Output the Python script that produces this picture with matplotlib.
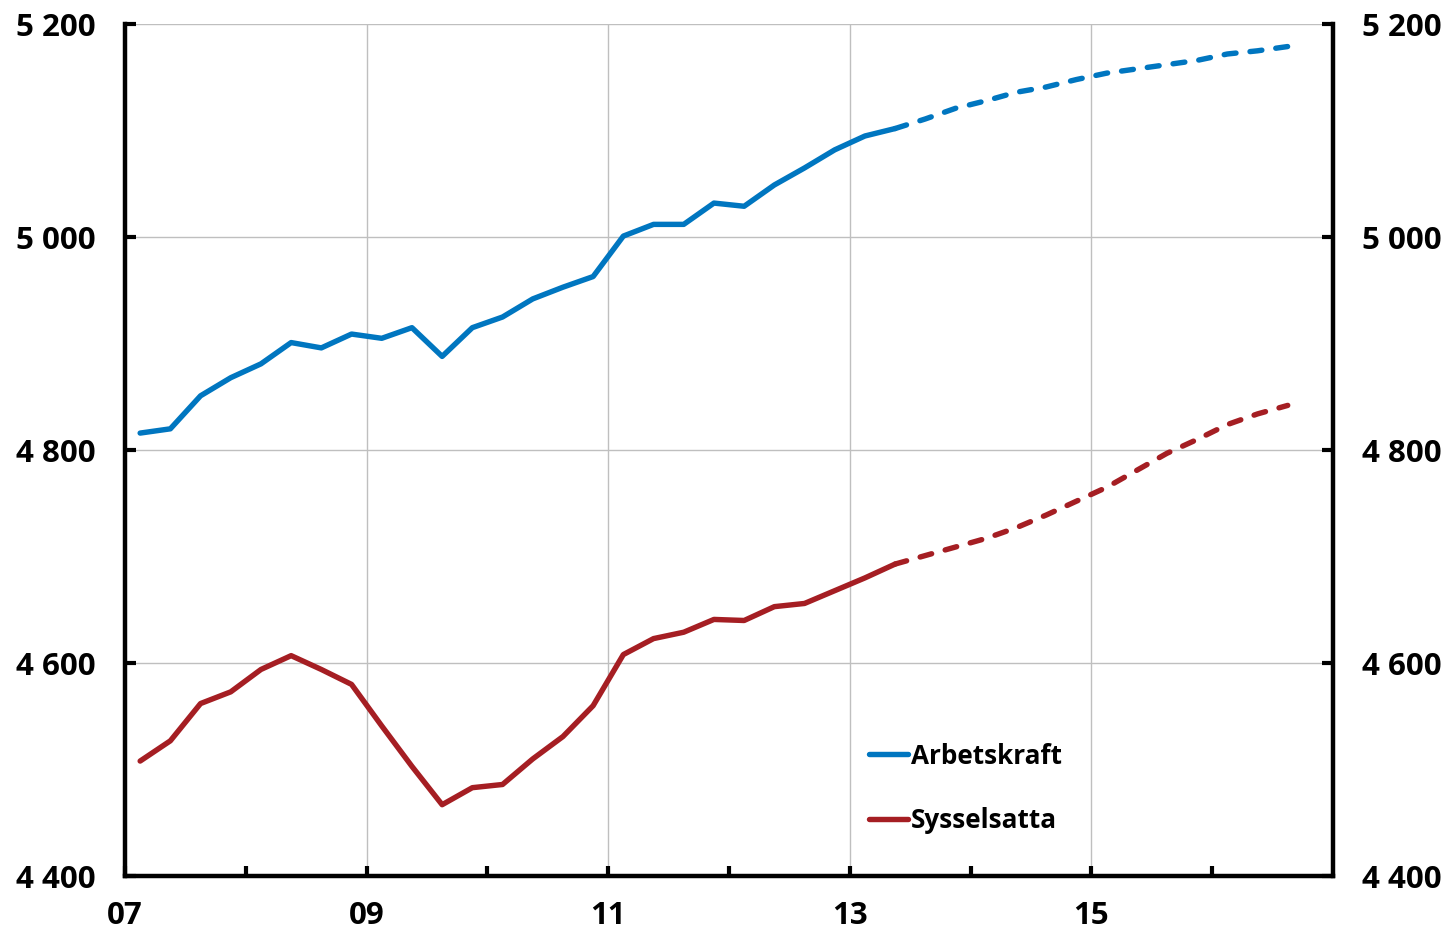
import numpy as np
import pandas as pd
import matplotlib
matplotlib.use("Agg")
import matplotlib.pyplot as plt
from matplotlib.ticker import FixedLocator, FuncFormatter

# quarters 2007Q1 - 2016Q3, outcome up to 2013Q2, forecast after
quarters = pd.period_range("2007Q1", "2016Q3", freq="Q")
last_outcome = "2013Q2"

# thousands of persons
arbetskraft = [4816, 4820, 4851, 4868, 4881, 4901, 4896, 4909, 4905, 4915,
               4888, 4915, 4925, 4942, 4953, 4963, 5001, 5012, 5012, 5032,
               5029, 5049, 5065, 5082, 5095, 5102,
               5111, 5121, 5128, 5136, 5141, 5148, 5154, 5158, 5162, 5166,
               5172, 5175, 5179]
sysselsatta = [4508, 4527, 4562, 4573, 4594, 4607, 4594, 4580, 4541, 4503,
               4467, 4483, 4486, 4510, 4531, 4560, 4608, 4623, 4629, 4641,
               4640, 4653, 4656, 4668, 4680, 4693,
               4701, 4709, 4717, 4727, 4739, 4752, 4765, 4781, 4797, 4810,
               4824, 4834, 4842]

series_names = ["Arbetskraft", "Sysselsatta"]
series_colors = ["#0076C0", "#A51E23"]

year_ticks = [2007, 2009, 2011, 2013, 2015]
year_labels = ["07", "09", "11", "13", "15"]
y_ticks = [4400, 4600, 4800, 5000, 5200]

plt.rcParams["font.family"] = ["Open Sans", "DejaVu Sans"]
plt.rcParams["font.weight"] = "bold"

# decimal year at the middle of each quarter
x = np.array([q.year + (q.quarter - 0.5) / 4 for q in quarters])
split = list(quarters).index(pd.Period(last_outcome, freq="Q"))

fig = plt.figure(figsize=(14.54, 9.30), dpi=100)
ax = fig.add_axes([0.086, 0.058, 0.8308, 0.916])

for values, name, color in zip([arbetskraft, sysselsatta], series_names, series_colors):
    values = np.array(values)
    ax.plot(x[:split + 1], values[:split + 1], color=color, lw=3.9,
            solid_capstyle="round", solid_joinstyle="round", label=name, zorder=3)
    ax.plot(x[split:], values[split:], color=color, lw=3.9,
            dashes=(2.2, 2.6), dash_capstyle="round", zorder=3)

ax.set_xlim(2007, 2017)
ax.set_ylim(4400, 5200)

# axes and ticks
ax.xaxis.set_major_locator(FixedLocator(year_ticks))
ax.xaxis.set_minor_locator(FixedLocator([2008, 2010, 2012, 2014, 2016]))
ax.set_xticklabels(year_labels)
ax.yaxis.set_major_locator(FixedLocator(y_ticks))
ax.yaxis.set_major_formatter(FuncFormatter(lambda v, p: f"{int(v):,}".replace(",", " ")))

ax.tick_params(axis="x", which="both", direction="in", length=7, width=3,
               labelsize=22.5, pad=18)
ax.tick_params(axis="y", which="both", direction="in", length=8, width=3,
               labelsize=22.5, pad=21, left=True, right=True,
               labelleft=True, labelright=True)

for side in ["left", "right", "bottom"]:
    ax.spines[side].set_linewidth(3.2)
    ax.spines[side].set_color("black")
ax.spines["top"].set_visible(False)

ax.grid(True, which="major", color="#BFBFBF", lw=1.0, zorder=0)
ax.set_axisbelow(True)

leg = ax.legend(loc="upper left", bbox_to_anchor=(0.605, 0.172), frameon=False,
                fontsize=18.8, handlelength=1.5, handletextpad=0.1,
                labelspacing=1.45, borderpad=0)
for line in leg.get_lines():
    line.set_linewidth(3.9)
    line.set_solid_capstyle("round")

fig.savefig("out.png", dpi=100)
